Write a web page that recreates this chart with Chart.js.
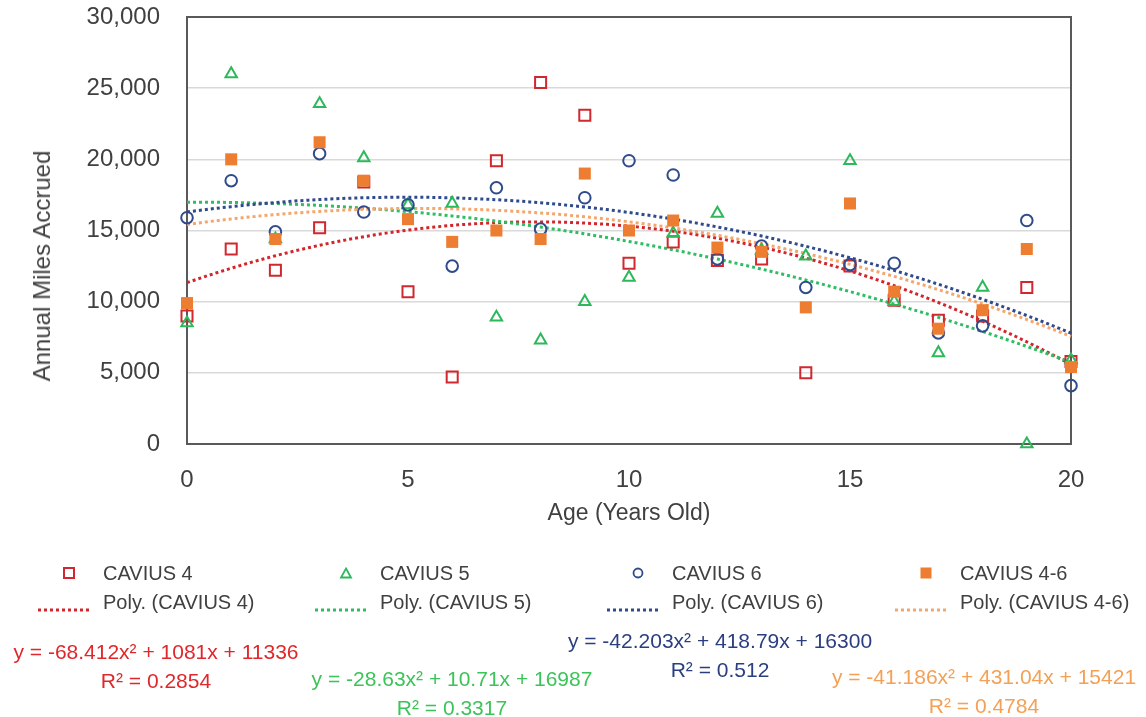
<!DOCTYPE html>
<html>
<head>
<meta charset="utf-8">
<script src="https://cdn.jsdelivr.net/npm/chart.js@4.4.1/dist/chart.umd.min.js"></script>
<style>
html,body{margin:0;padding:0;background:#fff;}
#wrap{position:relative;width:1146px;height:717px;overflow:hidden;font-family:"Liberation Sans",Arial,sans-serif;color:#404040;}
#c{position:absolute;left:0;top:0;}
.t{position:absolute;white-space:nowrap;line-height:1;}
.mk{position:absolute;}
</style>
</head>
<body>
<div id="wrap">
<canvas id="c" width="1146" height="717"></canvas>
</div>
<script>
// ---- data ----
const ages = [0,1,2,3,4,5,6,7,8,9,10,11,12,13,14,15,16,17,18,19,20];
const cavius4  = [9000,13700,12200,15200,18400,10700,4700,19900,25400,23100,12700,14200,12900,13000,5000,12500,10100,8700,9000,11000,5800];
const cavius5  = [8500,26000,14400,23900,20100,16800,16900,8900,7300,10000,11700,14800,16200,13600,13200,19900,10000,6400,11000,0,5900];
const cavius6  = [15900,18500,14900,20400,16300,16800,12500,18000,15100,17300,19900,18900,13000,13900,11000,12600,12700,7800,8300,15700,4100];
const cavius46 = [9900,20000,14400,21200,18500,15800,14200,15000,14400,19000,15000,15700,13800,13500,9600,16900,10700,8100,9400,13700,5400];
const seriesNames = ["CAVIUS 4","CAVIUS 5","CAVIUS 6","CAVIUS 4-6"];
const trendNames = ["Poly. (CAVIUS 4)","Poly. (CAVIUS 5)","Poly. (CAVIUS 6)","Poly. (CAVIUS 4-6)"];
// trendline coefficients as printed on the chart (a, b, c of y = a x^2 + b x + c)
const poly4  = [-68.412, 1081, 11336];
const poly5  = [-28.63, 10.71, 16987];
const poly6  = [-42.203, 418.79, 16300];
const poly46 = [-41.186, 431.04, 15421];
const eqLabels = ["y = -68.412x\u00B2 + 1081x + 11336","y = -28.63x\u00B2 + 10.71x + 16987","y = -42.203x\u00B2 + 418.79x + 16300","y = -41.186x\u00B2 + 431.04x + 15421"];
const r2Labels = ["R\u00B2 = 0.2854","R\u00B2 = 0.3317","R\u00B2 = 0.512","R\u00B2 = 0.4784"];
const yTicks = [0,5000,10000,15000,20000,25000,30000];
const xTicks = [0,5,10,15,20];

// ---- styles ----
const FONT = '"Liberation Sans", Arial, sans-serif';
const markerColors = ['#D0282E','#2EB85C','#2F4B8C','#ED7D31'];
const trendColors  = ['#D3262C','#2EBD62','#2F4B8C','#F5A66C'];
const textColors   = ['#E0272B','#3CC35A','#2B3F80','#F4A055'];

const seriesVals = [cavius4, cavius5, cavius6, cavius46];
const polys = [poly4, poly5, poly6, poly46];

function pts(vals){ return ages.map((a,i)=>({x:a,y:vals[i]})); }
function curve(p){
  const out=[];
  for(let k=0;k<=80;k++){ const x=k/4; out.push({x:x,y:p[0]*x*x+p[1]*x+p[2]}); }
  return out;
}

const pointStyles = ['rect','triangle','circle','rect'];
const radii = [7.8, 6.6, 5.8, 8.5];
const datasets = [];
seriesVals.forEach((v,i)=>{
  const filled = i===3;
  datasets.push({
    label: seriesNames[i], data: pts(v), pointStyle: pointStyles[i],
    pointRadius: radii[i], pointHoverRadius: radii[i],
    pointBorderWidth: filled?0:2,
    pointBorderColor: markerColors[i],
    pointBackgroundColor: filled?markerColors[i]:'rgba(0,0,0,0)',
    showLine:false, clip:false, order: 4-i
  });
});
polys.forEach((p,i)=>{
  datasets.push({
    label: trendNames[i], data: curve(p), type:'line', showLine:true,
    pointRadius:0, borderColor: trendColors[i], borderWidth:3,
    borderDash:[3,3], borderCapStyle:'butt', fill:false, tension:0,
    clip:false, order: 10-i
  });
});

const framePlugin = {
  id:'frame',
  beforeDatasetsDraw(chart){
    const {ctx, chartArea:a} = chart;
    ctx.save(); ctx.strokeStyle='#595959'; ctx.lineWidth=2;
    ctx.strokeRect(a.left, a.top, a.right-a.left, a.bottom-a.top);
    ctx.restore();
  }
};

new Chart(document.getElementById('c'), {
  type:'scatter',
  data:{datasets},
  options:{
    responsive:false, animation:false, devicePixelRatio:1,
    layout:{padding:{left:0,right:75,top:17,bottom:190}},
    plugins:{legend:{display:false}, tooltip:{enabled:false}},
    scales:{
      x:{type:'linear', min:0, max:20,
        afterBuildTicks(s){ s.ticks = xTicks.map(v=>({value:v})); },
        ticks:{font:{family:FONT,size:24}, color:'#404040', padding:14},
        grid:{display:false}, border:{display:false},
        title:{display:true, text:'Age (Years Old)', font:{family:FONT,size:23}, color:'#404040', padding:0},
        afterFit(s){ s.height = 83; }
      },
      y:{min:0, max:30000,
        afterBuildTicks(s){ s.ticks = yTicks.map(v=>({value:v})); },
        ticks:{font:{family:FONT,size:24}, color:'#404040', padding:0,
          callback:(v)=>Number(v).toLocaleString('en-US')},
        grid:{color:'#d9d9d9', lineWidth:1.5, drawTicks:true, tickLength:27, tickColor:'rgba(0,0,0,0)'},
        border:{display:false},
        afterFit(s){ s.width = 187; }
      }
    }
  },
  plugins:[framePlugin]
});

// ---- HTML text: y-axis title, legend, trendline equations ----
const wrap = document.getElementById('wrap');
function addText(txt, x, y, size, color, anchor){
  const d=document.createElement('div'); d.className='t'; d.textContent=txt;
  d.style.fontSize=size+'px'; d.style.color=color; d.style.left=x+'px'; d.style.top=y+'px';
  d.style.transform = anchor==='center' ? 'translate(-50%,-50%)' : 'translate(0,-50%)';
  wrap.appendChild(d); return d;
}
const yt = addText('Annual Miles Accrued', 42, 266, 24, '#404040', 'center');
yt.style.transform='translate(-50%,-50%) rotate(-90deg)';

const legX = [103, 380, 672, 960];
const rowY = [573, 602];
const markerSvg = [
  '<svg width="14" height="14"><rect x="2" y="2" width="10" height="10" fill="none" stroke="#D0282E" stroke-width="2"/></svg>',
  '<svg width="14" height="14"><polygon points="7,2.5 12,11.5 2,11.5" fill="none" stroke="#2EB85C" stroke-width="1.8"/></svg>',
  '<svg width="14" height="14"><circle cx="7" cy="7" r="4.5" fill="none" stroke="#2F4B8C" stroke-width="1.8"/></svg>',
  '<svg width="14" height="14"><rect x="1.5" y="1.5" width="11" height="11" fill="#ED7D31"/></svg>'
];
seriesNames.forEach((n,i)=>{
  const m=document.createElement('div'); m.className='mk'; m.innerHTML=markerSvg[i];
  m.style.left=(legX[i]-34-7)+'px'; m.style.top=(rowY[0]-7)+'px'; wrap.appendChild(m);
  addText(n, legX[i], rowY[0], 20, '#404040', 'left');
  const l=document.createElement('div'); l.className='mk';
  l.innerHTML='<svg width="54" height="6"><line x1="0" y1="3" x2="54" y2="3" stroke="'+trendColors[i]+'" stroke-width="3" stroke-dasharray="3,3"/></svg>';
  l.style.left=(legX[i]-65)+'px'; l.style.top=(rowY[1]-3)+'px'; wrap.appendChild(l);
  addText(trendNames[i], legX[i], rowY[1], 20, '#404040', 'left');
});

const eqX = [156, 452, 720, 984];
const eqY = [651, 678, 640, 676];
eqLabels.forEach((e,i)=>{
  addText(e, eqX[i], eqY[i], 21, textColors[i], 'center');
  addText(r2Labels[i], eqX[i], eqY[i]+29, 21, textColors[i], 'center');
});
</script>
</body>
</html>
